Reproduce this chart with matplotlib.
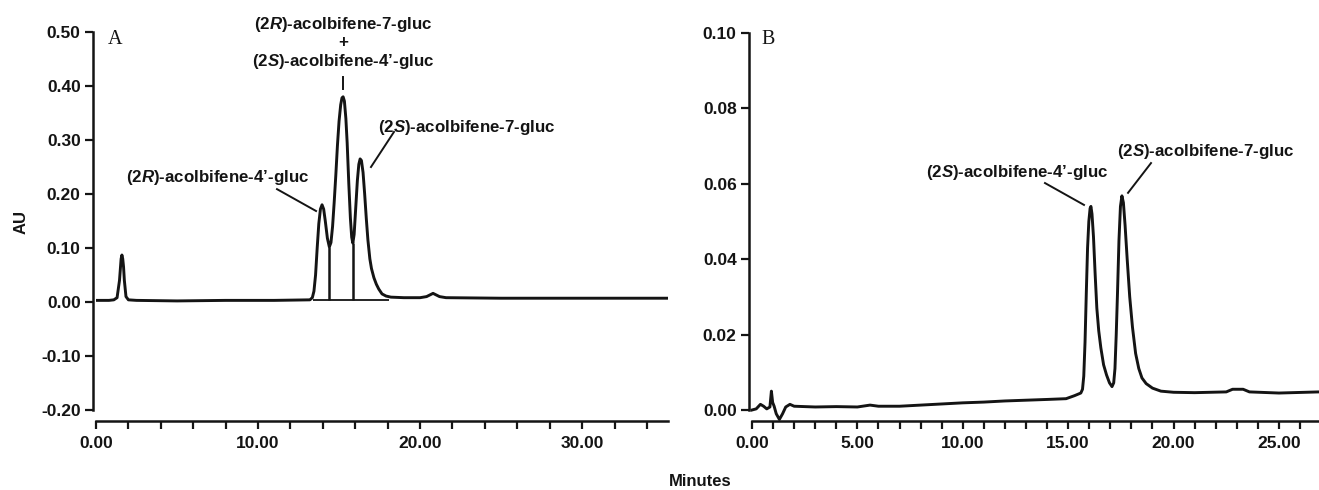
import matplotlib
matplotlib.use("Agg")
import matplotlib.pyplot as plt

plt.rcParams['font.family'] = ['Liberation Sans', 'DejaVu Sans']
plt.rcParams['font.weight'] = 'bold'
plt.rcParams['mathtext.fontset'] = 'custom'
plt.rcParams['mathtext.rm'] = 'Liberation Sans:bold'
plt.rcParams['mathtext.it'] = 'Liberation Sans:italic:bold'
plt.rcParams['mathtext.bf'] = 'Liberation Sans:bold'

# ---------------- Panel A data (minutes, AU) ----------------
a_time = [0.0, 0.8, 1.1, 1.3, 1.45, 1.5, 1.55, 1.6, 1.65, 1.7, 1.75, 1.85, 2.0, 2.5, 5.0, 8.0, 11.0,
          13.2, 13.35, 13.45, 13.55, 13.65, 13.75, 13.85, 13.95, 14.05, 14.15, 14.28, 14.4, 14.5,
          14.6, 14.7, 14.8, 14.9, 15.0, 15.1, 15.18, 15.25, 15.33, 15.42, 15.5, 15.6, 15.7, 15.78,
          15.85, 15.93, 16.03, 16.13, 16.22, 16.3, 16.38, 16.48, 16.58, 16.68, 16.78, 16.9, 17.0,
          17.15, 17.3, 17.45, 17.65, 17.9, 18.2, 19.0, 20.0, 20.4, 20.8, 21.2, 21.6, 25.0, 35.3]
a_au = [0.003, 0.003, 0.004, 0.008, 0.04, 0.06, 0.08, 0.087, 0.08, 0.065, 0.04, 0.01, 0.004, 0.003,
        0.002, 0.003, 0.003, 0.004, 0.008, 0.02, 0.05, 0.1, 0.145, 0.172, 0.18, 0.172, 0.15, 0.118,
        0.102, 0.11, 0.14, 0.185, 0.235, 0.29, 0.335, 0.365, 0.378, 0.38, 0.372, 0.34, 0.295,
        0.22, 0.155, 0.12, 0.109, 0.125, 0.175, 0.225, 0.255, 0.265, 0.262, 0.24, 0.2, 0.155,
        0.115, 0.08, 0.062, 0.045, 0.033, 0.024, 0.015, 0.011, 0.009, 0.008, 0.008, 0.01, 0.016,
        0.01, 0.008, 0.007, 0.007]
a_drop_times = [14.4, 15.85]
a_drop_tops = [0.102, 0.109]
a_base_level = 0.003
a_base_span = [13.4, 18.1]

a_xticks_major = [0, 10, 20, 30]
a_xlabels = ['0.00', '10.00', '20.00', '30.00']
a_xticks_minor = [2, 4, 6, 8, 12, 14, 16, 18, 22, 24, 26, 28, 32, 34]
a_yticks = [-0.2, -0.1, 0.0, 0.1, 0.2, 0.3, 0.4, 0.5]
a_ylabels = ['-0.20', '-0.10', '0.00', '0.10', '0.20', '0.30', '0.40', '0.50']

# ---------------- Panel B data (minutes, AU) ----------------
b_time = [0.0, 0.2, 0.4, 0.55, 0.7, 0.85, 0.92, 0.98, 1.05, 1.15, 1.3, 1.45, 1.6, 1.8, 2.0, 3.0,
          4.0, 5.0, 5.6, 6.0, 7.0, 8.0, 9.0, 10.0, 11.0, 12.0, 13.0, 14.0, 14.9, 15.3, 15.6,
          15.68, 15.74, 15.8, 15.86, 15.92, 15.98, 16.04, 16.08, 16.13, 16.2, 16.28, 16.36, 16.45,
          16.55, 16.68, 16.82, 16.96, 17.08, 17.16, 17.22, 17.28, 17.34, 17.41, 17.48, 17.55,
          17.62, 17.7, 17.8, 17.92, 18.05, 18.2, 18.35, 18.5, 18.7, 19.0, 19.4,
          20.0, 21.0, 22.5, 22.8, 23.3, 23.6, 25.0, 26.9]
b_au = [0.0, 0.0003, 0.0015, 0.001, 0.0003, 0.0008, 0.005, 0.002, 0.001, -0.001, -0.0025, -0.001,
        0.0008, 0.0015, 0.001, 0.0008, 0.0009, 0.0008, 0.0013, 0.001, 0.001, 0.0013, 0.0016,
        0.0019, 0.0021, 0.0024, 0.0026, 0.0028, 0.003, 0.0038, 0.0045,
        0.0055, 0.009, 0.018, 0.031, 0.043, 0.05, 0.0535, 0.054, 0.052, 0.046, 0.036, 0.027, 0.021,
        0.0165, 0.012, 0.0093, 0.0072, 0.0062, 0.0072, 0.011, 0.02, 0.031, 0.045, 0.054, 0.0568,
        0.055, 0.049, 0.04, 0.03, 0.022, 0.015, 0.011, 0.0085, 0.007, 0.0058, 0.005,
        0.0047, 0.0046, 0.0048, 0.0055, 0.0055, 0.0048, 0.0045, 0.0048]

b_xticks_major = [0, 5, 10, 15, 20, 25]
b_xlabels = ['0.00', '5.00', '10.00', '15.00', '20.00', '25.00']
b_xticks_minor = [1, 2, 3, 4, 6, 7, 8, 9, 11, 12, 13, 14, 16, 17, 18, 19, 21, 22, 23, 24, 26]
b_yticks = [0.0, 0.02, 0.04, 0.06, 0.08, 0.10]
b_ylabels = ['0.00', '0.02', '0.04', '0.06', '0.08', '0.10']

INK = '#141414'
W, H = 1319, 490
fig = plt.figure(figsize=(W / 100, H / 100), dpi=100)

axA = fig.add_axes([96 / W, 80 / H, 572 / W, 378 / H])
axB = fig.add_axes([752 / W, 80 / H, 567 / W, 377 / H])


def style(ax):
    for s in ['top', 'right']:
        ax.spines[s].set_visible(False)
    ax.spines['left'].set_position(('outward', 2.2))
    ax.spines['bottom'].set_position(('outward', 7.9))
    for s in ['left', 'bottom']:
        ax.spines[s].set_linewidth(1.8)
        ax.spines[s].set_color(INK)
    ax.tick_params(axis='both', which='both', direction='out', length=5.8, width=1.6,
                   colors=INK, labelsize=12.5)
    ax.tick_params(axis='y', pad=3)
    ax.tick_params(axis='x', pad=5)
    for lab in ax.get_xticklabels() + ax.get_yticklabels():
        lab.set_fontweight('bold')


# Panel A
axA.plot(a_time, a_au, color=INK, lw=2.1, solid_joinstyle='round')
axA.vlines(a_drop_times, a_base_level, a_drop_tops, color=INK, lw=1.8)
axA.hlines(a_base_level, a_base_span[0], a_base_span[1], color=INK, lw=1.3)
axA.set_xlim(0, 35.3)
axA.set_ylim(-0.2, 0.5)
axA.set_xticks(a_xticks_major)
axA.set_xticklabels(a_xlabels)
axA.set_xticks(a_xticks_minor, minor=True)
axA.set_yticks(a_yticks)
axA.set_yticklabels(a_ylabels)
style(axA)

tkw = dict(fontsize=12.2, fontweight='bold', color=INK, ha='center', va='center')
axA.text(15.24, 0.513, r'(2$\mathit{R}$)-acolbifene-7-gluc', **tkw)
axA.text(15.24, 0.481, '+', **tkw)
axA.text(15.24, 0.446, r'(2$\mathit{S}$)-acolbifene-4’-gluc', **tkw)
axA.plot([15.24, 15.24], [0.417, 0.394], color=INK, lw=1.4)
axA.text(7.53, 0.23, r'(2$\mathit{R}$)-acolbifene-4’-gluc', **tkw)
axA.plot([11.17, 13.58], [0.209, 0.1685], color=INK, lw=1.4)
axA.text(22.9, 0.324, r'(2$\mathit{S}$)-acolbifene-7-gluc', **tkw)
axA.plot([18.39, 16.97], [0.315, 0.25], color=INK, lw=1.4)
axA.text(0.74, 0.487, 'A', fontsize=14.5, family='Liberation Serif', fontweight='normal',
         color=INK, ha='left', va='center')

# Panel B
axB.plot(b_time, b_au, color=INK, lw=2.1, clip_on=False, solid_joinstyle='round')
axB.set_xlim(0, 26.9)
axB.set_ylim(0, 0.10)
axB.set_xticks(b_xticks_major)
axB.set_xticklabels(b_xlabels)
axB.set_xticks(b_xticks_minor, minor=True)
axB.set_yticks(b_yticks)
axB.set_yticklabels(b_ylabels)
style(axB)

axB.text(12.57, 0.0629, r'(2$\mathit{S}$)-acolbifene-4’-gluc', **tkw)
axB.plot([13.9, 15.75], [0.0602, 0.0544], color=INK, lw=1.4)
axB.text(21.54, 0.0687, r'(2$\mathit{S}$)-acolbifene-7-gluc', **tkw)
axB.plot([18.93, 17.84], [0.0655, 0.0576], color=INK, lw=1.4)
axB.text(0.47, 0.0984, 'B', fontsize=14.5, family='Liberation Serif', fontweight='normal',
         color=INK, ha='left', va='center')

fig.text(21 / W, 1 - 222 / H, 'AU', rotation=90, fontsize=12, fontweight='bold', color=INK,
         ha='center', va='center')
fig.text(700 / W, 1 - 481 / H, 'Minutes', fontsize=12, fontweight='bold', color=INK,
         ha='center', va='center')

fig.savefig('out.png', dpi=100)
